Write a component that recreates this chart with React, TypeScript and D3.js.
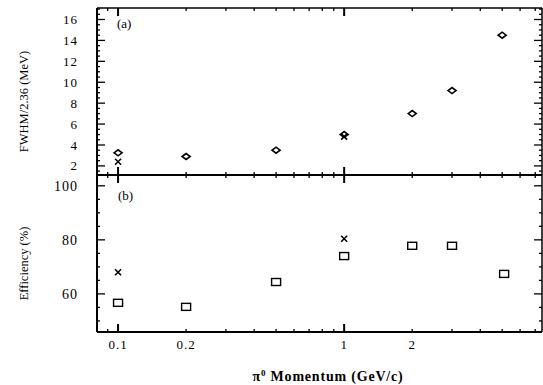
import React from "react";
import * as d3 from "d3";

const momenta = [0.1, 0.2, 0.5, 1, 2, 3, 5];
const fwhmDiamond = [3.25, 2.9, 3.5, 5.0, 7.0, 9.2, 14.5];
const fwhmCrossP = [0.1, 1];
const fwhmCross = [2.4, 4.8];
const effSquareP = [0.1, 0.2, 0.5, 1, 2, 3, 5.1];
const effSquare = [56.7, 55.2, 64.4, 74, 77.8, 77.8, 67.4];
const effCrossP = [0.1, 1];
const effCross = [68, 80.4];
const fwhmTicks = [2, 4, 6, 8, 10, 12, 14, 16];
const effTicks = [60, 80, 100];
const xTickLabels = [0.1, 0.2, 1, 2];

const W = 543, H = 385;
const L = 97, R = 542, T = 8, M = 175, B = 332;

export default function App() {
  const x = d3.scaleLog().domain([0.0807, 7.5]).range([L, R]);
  const ya = d3.scaleLinear().domain([1.13, 17.1]).range([M, T]);
  const yb = d3.scaleLinear().domain([45.9, 104]).range([B, M]);
  const font = "'Liberation Serif', 'DejaVu Serif', serif";

  const xMinor: number[] = [];
  for (const dec of [0.01, 0.1, 1]) for (let k = 1; k <= 9; k++) {
    const v = dec * k;
    if (v >= 0.0807 && v <= 7.5) xMinor.push(v);
  }

  const xTicksAt = (y: number, up: boolean, down: boolean) =>
    xMinor.map((v, i) => {
      const major = Math.abs(Math.log10(v) - Math.round(Math.log10(v))) < 1e-6;
      const len = major ? 8 : 3;
      return (
        <line key={i} x1={x(v)} x2={x(v)} y1={y - (up ? len : 0)} y2={y + (down ? len : 0)}
          stroke="#000" strokeWidth={major ? 2 : 1.3} />
      );
    });

  const aMinor = d3.range(1.5, 17.01, 0.5);
  const bMinor = d3.range(50, 104, 5);

  const diamond = (cx: number, cy: number, k: string) => (
    <path key={k} d={`M${cx - 4},${cy} L${cx},${cy - 3} L${cx + 4},${cy} L${cx},${cy + 3} Z`}
      fill="none" stroke="#000" strokeWidth={1.6} />
  );
  const cross = (cx: number, cy: number, k: string) => (
    <path key={k} d={`M${cx - 3},${cy - 3} L${cx + 3},${cy + 3} M${cx + 3},${cy - 3} L${cx - 3},${cy + 3}`}
      stroke="#000" strokeWidth={1.6} fill="none" />
  );
  const square = (cx: number, cy: number, k: string) => (
    <rect key={k} x={cx - 4.5} y={cy - 3.5} width={9} height={7} fill="none" stroke="#000" strokeWidth={1.4} />
  );

  return (
    <svg width={W} height={H} style={{ position: "absolute", left: 0, top: 0, background: "#fff" }}>
      <rect x={0} y={0} width={W} height={H} fill="#fff" />
      {/* frame */}
      <line x1={L} x2={R} y1={T} y2={T} stroke="#000" strokeWidth={1.5} />
      <line x1={L} x2={R} y1={M} y2={M} stroke="#000" strokeWidth={2} />
      <line x1={L} x2={R} y1={B} y2={B} stroke="#000" strokeWidth={2} />
      <line x1={L} x2={L} y1={T} y2={B} stroke="#000" strokeWidth={2} />
      <line x1={R} x2={R} y1={T} y2={B} stroke="#000" strokeWidth={1.5} />
      {xTicksAt(T, false, true)}
      {xTicksAt(M, true, true)}
      {xTicksAt(B, true, false)}
      {/* y ticks panel a */}
      {aMinor.map((v, i) => {
        const major = Math.abs(v % 2) < 1e-6;
        const len = major ? 8 : 3;
        return (
          <g key={"a" + i}>
            <line x1={L} x2={L + len} y1={ya(v)} y2={ya(v)} stroke="#000" strokeWidth={1.3} />
            <line x1={R - len} x2={R} y1={ya(v)} y2={ya(v)} stroke="#000" strokeWidth={1.3} />
          </g>
        );
      })}
      {bMinor.map((v, i) => {
        const major = Math.abs(v % 20) < 1e-6;
        const len = major ? 8 : 3;
        return (
          <g key={"b" + i}>
            <line x1={L} x2={L + len} y1={yb(v)} y2={yb(v)} stroke="#000" strokeWidth={1.3} />
            <line x1={R - len} x2={R} y1={yb(v)} y2={yb(v)} stroke="#000" strokeWidth={1.3} />
          </g>
        );
      })}
      {/* tick labels */}
      {fwhmTicks.map((v) => (
        <text key={"fl" + v} x={L - 19} y={ya(v)} dy="0.35em" textAnchor="end" fontFamily={font} fontSize={13} letterSpacing={1} fill="#000">{v}</text>
      ))}
      {effTicks.map((v) => (
        <text key={"el" + v} x={L - 19} y={yb(v)} dy="0.35em" textAnchor="end" fontFamily={font} fontSize={14} letterSpacing={1} fill="#000">{v}</text>
      ))}
      {xTickLabels.map((v) => (
        <text key={"xl" + v} x={x(v)} y={349} textAnchor="middle" fontFamily={font} fontSize={13} letterSpacing={1} fill="#000">{v}</text>
      ))}
      <text x={117} y={28} fontFamily={font} fontSize={13} fill="#000">(a)</text>
      <text x={118} y={200} fontFamily={font} fontSize={13} fill="#000">(b)</text>
      <text transform={`translate(28,${(T + M) / 2 + 10}) rotate(-90)`} textAnchor="middle" fontFamily={font} fontSize={12.5} fill="#000">FWHM/2.36 (MeV)</text>
      <text transform={`translate(28,${(M + B) / 2 + 10}) rotate(-90)`} textAnchor="middle" fontFamily={font} fontSize={12.5} fill="#000">Efficiency (%)</text>
      <text x={328} y={381} textAnchor="middle" fontFamily={font} fontSize={14} fontWeight="bold" letterSpacing={0.8} fill="#000">
        π<tspan dy={-5} fontSize={9}>0</tspan><tspan dy={5}> Momentum (GeV/c)</tspan>
      </text>
      {/* data */}
      {momenta.map((p, i) => diamond(x(p), ya(fwhmDiamond[i]), "d" + i))}
      {fwhmCrossP.map((p, i) => cross(x(p), ya(fwhmCross[i]), "c" + i))}
      {effSquareP.map((p, i) => square(x(p), yb(effSquare[i]), "s" + i))}
      {effCrossP.map((p, i) => cross(x(p), yb(effCross[i]), "e" + i))}
    </svg>
  );
}
